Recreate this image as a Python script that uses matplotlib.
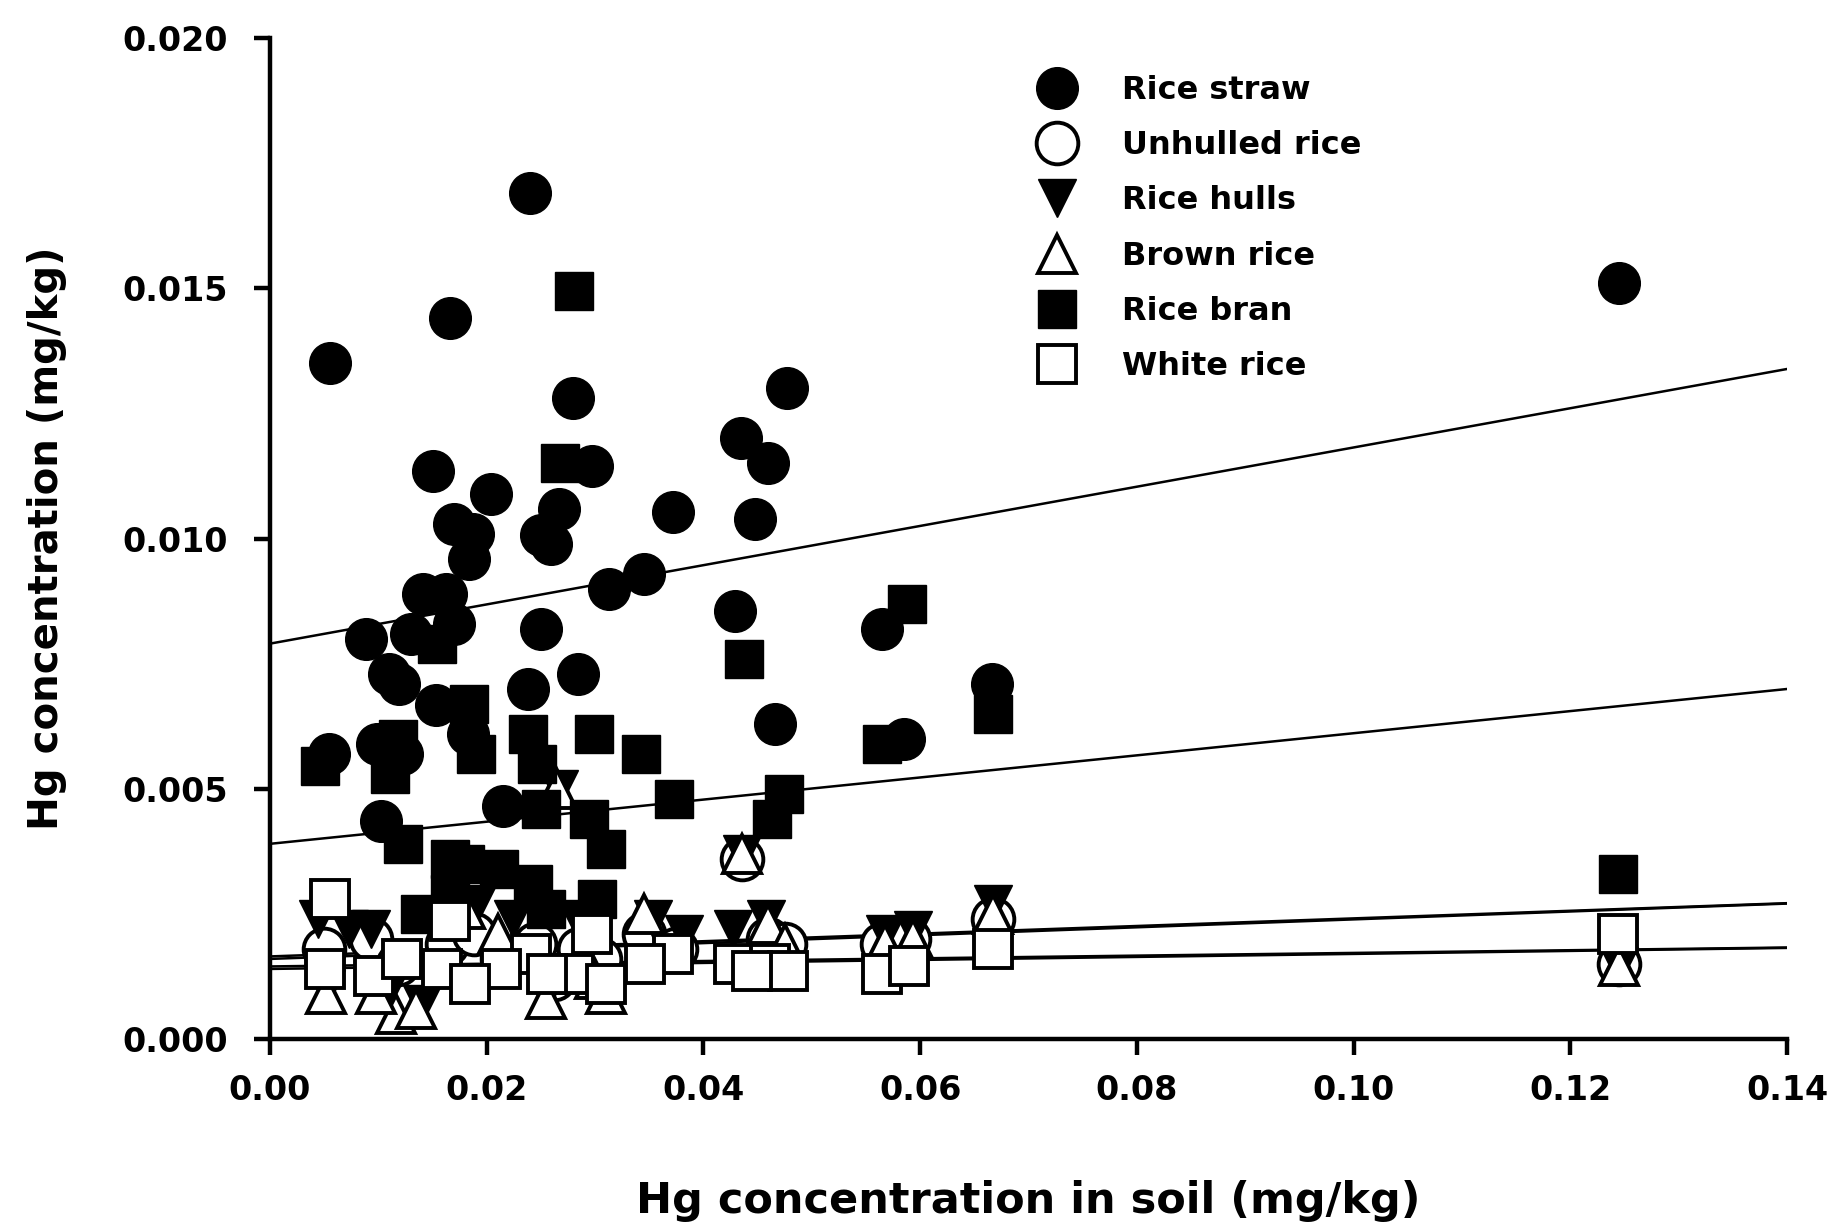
import numpy as np
import matplotlib.pyplot as plt

plt.rcParams['font.family'] = ['DejaVu Sans']
plt.rcParams['font.weight'] = 'bold'

# Rice straw (filled circles)
straw_x = [0.0055, 0.0240, 0.0166, 0.1245, 0.0150, 0.0204, 0.0280, 0.0297, 0.0477, 0.0435,
           0.0460, 0.0372, 0.0448, 0.0267, 0.0170, 0.0187, 0.0250, 0.0259, 0.0184, 0.0313,
           0.0345, 0.0141, 0.0162, 0.0170, 0.0130, 0.0089, 0.0250, 0.0429, 0.0565, 0.0110,
           0.0119, 0.0284, 0.0238, 0.0666, 0.0153, 0.0183, 0.0466, 0.0054, 0.0099, 0.0122,
           0.0585, 0.0215, 0.0102]
straw_y = [0.0135, 0.0169, 0.0144, 0.0151, 0.01135, 0.0109, 0.0128, 0.01145, 0.0130, 0.0120,
           0.0115, 0.01054, 0.0104, 0.0106, 0.0103, 0.0101, 0.01007, 0.0099, 0.0096, 0.0090,
           0.0093, 0.0089, 0.0089, 0.0083, 0.0081, 0.0080, 0.0082, 0.00855, 0.0082, 0.0073,
           0.0071, 0.0073, 0.0070, 0.0071, 0.00667, 0.0061, 0.0063, 0.0057, 0.0059, 0.0057,
           0.0060, 0.00466, 0.00436]

# Unhulled rice (open circles)
unhulled_x = [0.0050, 0.0093, 0.0118, 0.0163, 0.0188, 0.0214, 0.0245, 0.0262, 0.0285, 0.0305,
              0.0345, 0.0375, 0.0436, 0.0460, 0.0475, 0.0565, 0.0590, 0.0667, 0.1245]
unhulled_y = [0.0018, 0.0020, 0.0015, 0.0019, 0.0021, 0.0016, 0.0019, 0.0012, 0.0018, 0.0016,
              0.0021, 0.0018, 0.0036, 0.0020, 0.0019, 0.0019, 0.0020, 0.0024, 0.0015]

# Rice hulls (filled down triangles)
hulls_x = [0.0267, 0.0667, 0.0568, 0.0593, 0.0458, 0.0044, 0.0073, 0.0093, 0.0191, 0.0224,
           0.0283, 0.0353, 0.0427, 0.0382, 0.1245, 0.0436, 0.0110, 0.0140, 0.0255, 0.0052]
hulls_y = [0.0050, 0.0027, 0.0021, 0.00217, 0.0024, 0.0024, 0.0022, 0.0022, 0.0027, 0.0024,
           0.0024, 0.0024, 0.0022, 0.0021, 0.00145, 0.0037, 0.0010, 0.0007, 0.0009, 0.0010]

# Brown rice (open up triangles)
brown_x = [0.0265, 0.0436, 0.0345, 0.0667, 0.0568, 0.0593, 0.1245, 0.0116, 0.0135, 0.0255,
           0.0052, 0.0210, 0.0300, 0.0460, 0.0475, 0.0180, 0.0098, 0.0310]
brown_y = [0.0050, 0.0037, 0.0025, 0.0025, 0.0019, 0.0020, 0.00145, 0.0005, 0.0006, 0.0008,
           0.0009, 0.0021, 0.0012, 0.0023, 0.0019, 0.0026, 0.0009, 0.0009]

# Rice bran (filled squares)
bran_x = [0.0281, 0.0268, 0.0588, 0.0154, 0.0437, 0.0184, 0.0238, 0.0299, 0.0118, 0.0667,
          0.0565, 0.0190, 0.0342, 0.0046, 0.0111, 0.0246, 0.0373, 0.0474, 0.0250, 0.0294,
          0.0463, 0.0123, 0.0310, 0.1244, 0.0166, 0.0180, 0.0211, 0.0243, 0.0166, 0.0302,
          0.0138, 0.0255]
bran_y = [0.01494, 0.0115, 0.0087, 0.0079, 0.0076, 0.0067, 0.0061, 0.0061, 0.0060, 0.0065,
          0.0059, 0.0057, 0.0057, 0.00545, 0.0053, 0.0055, 0.0048, 0.0049, 0.0046, 0.0044,
          0.0044, 0.0039, 0.0038, 0.0033, 0.0036, 0.0035, 0.0034, 0.0031, 0.0029, 0.0028,
          0.0025, 0.0026]

# White rice (open squares)
white_x = [0.0055, 0.1244, 0.0166, 0.0297, 0.0372, 0.0667, 0.0241, 0.0213, 0.0051, 0.0096,
           0.0159, 0.0185, 0.0281, 0.0310, 0.0428, 0.0461, 0.0478, 0.0445, 0.0565, 0.0590,
           0.0346, 0.0122, 0.0256]
white_y = [0.0028, 0.0021, 0.00235, 0.0021, 0.0017, 0.0018, 0.0017, 0.0014, 0.0014, 0.00126,
           0.0014, 0.0011, 0.0013, 0.0011, 0.0015, 0.0015, 0.00135, 0.00135, 0.0013, 0.00145,
           0.0015, 0.0016, 0.0013]

# regression lines: intercept, slope
fits = {
    'straw': (0.0079, 0.0392),
    'bran': (0.0039, 0.0221),
    'unhulled': (0.0016, 0.0079),
    'hulls': (0.00165, 0.0076),
    'brown': (0.00145, 0.0027),
    'white': (0.0014, 0.0030),
}

fig = plt.figure(figsize=(18.28, 12.29), dpi=100)
ax = fig.add_axes([0.1477, 0.1546, 0.8299, 0.8144])

xl = np.array([0.0, 0.14])
for b0, b1 in fits.values():
    ax.plot(xl, b0 + b1 * xl, color='black', lw=1.8, zorder=1)

ms_c, ms_s, ms_t = 30, 27, 27
ew = 2.8
ax.plot(straw_x, straw_y, 'o', ms=ms_c, mfc='black', mec='black', label='Rice straw', zorder=2)
ax.plot(unhulled_x, unhulled_y, 'o', ms=ms_c, mfc='white', mec='black', mew=ew, label='Unhulled rice', zorder=3)
ax.plot(hulls_x, hulls_y, 'v', ms=ms_t, mfc='black', mec='black', label='Rice hulls', zorder=4)
ax.plot(brown_x, brown_y, '^', ms=ms_t, mfc='white', mec='black', mew=ew, label='Brown rice', zorder=5)
ax.plot(bran_x, bran_y, 's', ms=ms_s, mfc='black', mec='black', label='Rice bran', zorder=6)
ax.plot(white_x, white_y, 's', ms=ms_s, mfc='white', mec='black', mew=ew, label='White rice', zorder=7)

ax.set_xlim(0, 0.14)
ax.set_ylim(0, 0.020)
ax.set_xticks(np.arange(0, 0.141, 0.02))
ax.set_yticks(np.arange(0, 0.0201, 0.005))
ax.xaxis.set_major_formatter(plt.FormatStrFormatter('%.2f'))
ax.yaxis.set_major_formatter(plt.FormatStrFormatter('%.3f'))
for s in ['top', 'right']:
    ax.spines[s].set_visible(False)
for s in ['left', 'bottom']:
    ax.spines[s].set_linewidth(3.2)
ax.tick_params(direction='out', length=11.5, width=3.2, labelsize=24)
ax.tick_params(axis='y', pad=18.5)
ax.tick_params(axis='x', pad=14)
for lab in ax.get_xticklabels() + ax.get_yticklabels():
    lab.set_fontweight('bold')

ax.set_xlabel('Hg concentration in soil (mg/kg)', fontsize=31, fontweight='bold', labelpad=52)
ax.set_ylabel('Hg concentration (mg/kg)', fontsize=29, fontweight='bold', labelpad=40)

leg = ax.legend(loc='upper left', bbox_to_anchor=(0.484, 0.992), frameon=False, fontsize=23,
                markerscale=1.0, handlelength=1.5, handletextpad=1.3, labelspacing=0.76)
for t in leg.get_texts():
    t.set_fontweight('bold')

fig.savefig('out.png', dpi=100)
